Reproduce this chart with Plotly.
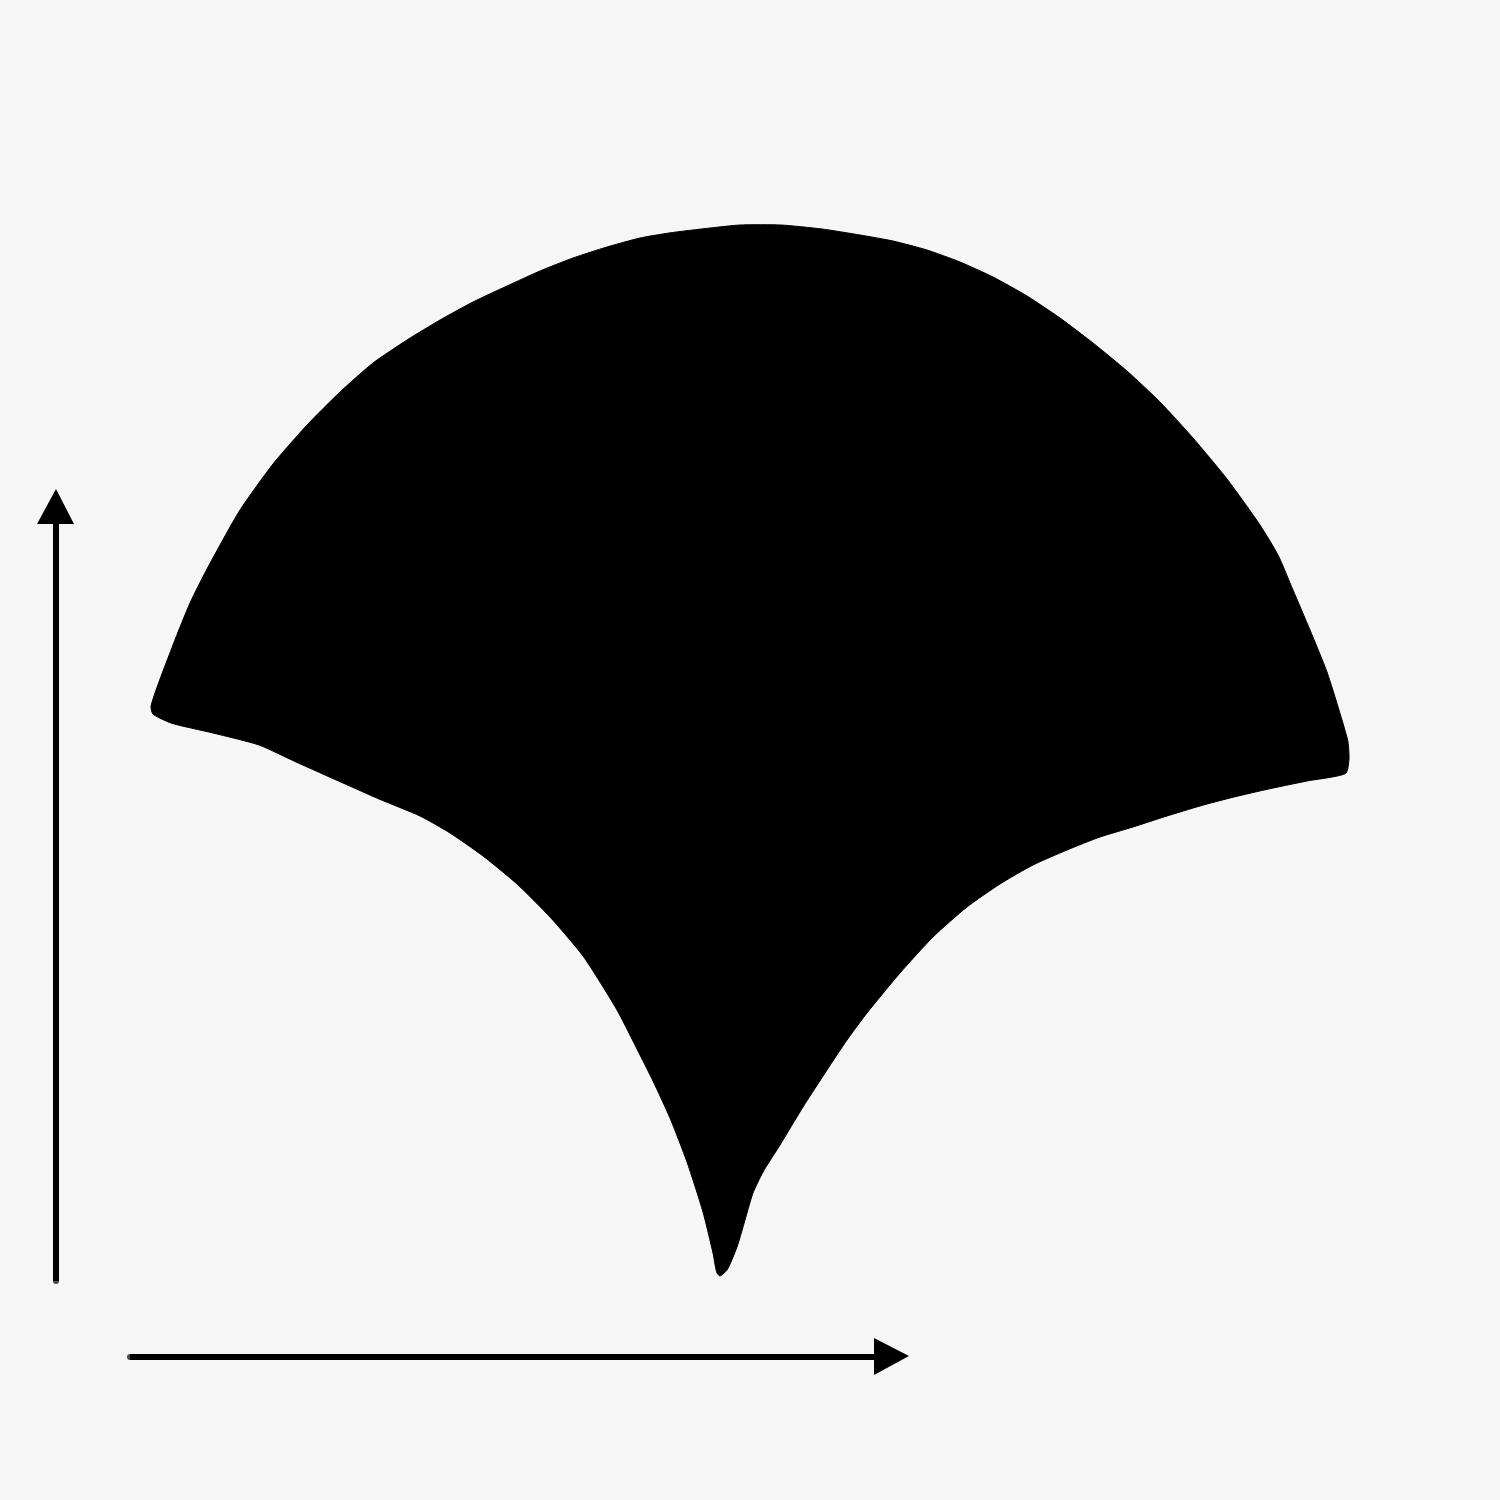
import plotly.graph_objects as go

# === Outline of the leaf (pixel coords, y grows downward) ===
leaf_x = [151, 173, 190, 207, 240, 273, 307, 340, 373, 407, 440, 473, 507, 540, 573,
          607, 640, 669, 710, 740, 781, 822, 860, 893, 927, 960, 993, 1027, 1060,
          1093, 1127, 1160, 1193, 1227, 1260, 1278, 1293, 1310, 1327, 1342, 1348,
          1349, 1346,
          1307, 1264, 1230, 1200, 1167, 1133, 1100, 1067, 1033, 1000, 967, 933, 900,
          867, 847, 827, 803, 780, 763, 753, 747, 737, 727, 720,
          717, 713, 703, 687, 670, 653, 640, 617, 583, 550, 517, 483, 450, 420, 379,
          343, 296, 259, 213, 171, 153, 151]
leaf_y = [707, 645, 603, 569, 510, 464, 425, 392, 363, 340, 320, 302, 286, 271, 258,
          247, 238, 233, 228, 225, 225, 229, 235, 241, 250, 262, 277, 296, 318,
          343, 371, 402, 438, 479, 525, 555, 590, 630, 672, 720, 742,
          759, 773,
          781, 790, 798, 806, 816, 827, 837, 850, 865, 884, 907, 937, 973,
          1013, 1040, 1070, 1107, 1145, 1172, 1193, 1213, 1247, 1270, 1276,
          1273, 1253, 1212, 1162, 1118, 1081, 1055, 1010, 956, 917, 884, 856, 833, 816, 799,
          783, 762, 745, 733, 723, 714, 707]

# === Axis arrows ===
y_arrow_x = [56, 56]
y_arrow_y = [1281, 522]
y_head_x = [37, 56, 74, 37]
y_head_y = [524, 489, 524, 524]

x_arrow_x = [130, 876]
x_arrow_y = [1357, 1357]
x_head_x = [874, 909, 874, 874]
x_head_y = [1338, 1356, 1375, 1338]

bg = "#f6f6f6"

fig = go.Figure()

fig.add_trace(go.Scatter(
    x=leaf_x, y=leaf_y,
    mode="lines",
    fill="toself",
    fillcolor="black",
    line=dict(color="black", width=1, shape="spline", smoothing=0.6),
    hoverinfo="skip",
    showlegend=False
))

for lx, ly in [(y_arrow_x, y_arrow_y), (x_arrow_x, x_arrow_y)]:
    fig.add_trace(go.Scatter(
        x=lx, y=ly,
        mode="lines+markers",
        line=dict(color="black", width=6),
        marker=dict(color="black", size=[6, 0], line=dict(width=0)),
        hoverinfo="skip",
        showlegend=False
    ))

for hx, hy in [(y_head_x, y_head_y), (x_head_x, x_head_y)]:
    fig.add_trace(go.Scatter(
        x=hx, y=hy,
        mode="lines",
        fill="toself",
        fillcolor="black",
        line=dict(color="black", width=0),
        hoverinfo="skip",
        showlegend=False
    ))

fig.update_layout(
    width=1500, height=1500,
    margin=dict(l=0, r=0, t=0, b=0),
    plot_bgcolor=bg,
    paper_bgcolor=bg,
    xaxis=dict(range=[0, 1500], visible=False, fixedrange=True),
    yaxis=dict(range=[1500, 0], visible=False, fixedrange=True),
)

# page margin off so the figure sits flush with the window
fig.write_html("out.html", config={"displayModeBar": False}, post_script=(
    "document.body.style.margin='0';"
    "document.body.style.background='%s';" % bg
))
